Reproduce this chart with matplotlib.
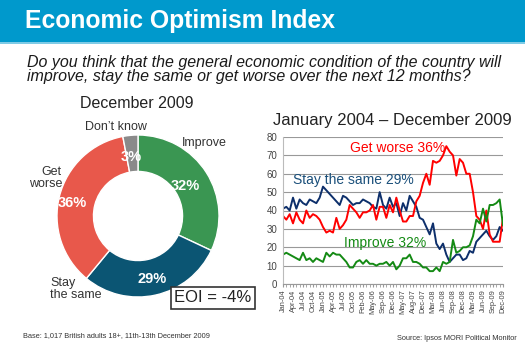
import matplotlib
matplotlib.use("Agg")
import matplotlib.pyplot as plt
from matplotlib.patches import Rectangle

plt.rcParams['font.family'] = ['Liberation Sans', 'DejaVu Sans']

# ---- data ----
pie_labels = ["Improve", "Stay the same", "Get worse", "Don't know"]
pie_values = [32, 29, 36, 3]
pie_colors = ["#3a9652", "#0b5573", "#e8584b", "#8a8a8a"]

tick_labels = ["Jan-04", "Apr-04", "Jul-04", "Oct-04", "Jan-05", "Apr-05", "Jul-05",
               "Oct-05", "Feb-06", "May-06", "Sep-06", "Dec-06", "May-07", "Aug-07",
               "Dec-07", "Mar-08", "Jun-08", "Sep-08", "Dec-08", "Mar-09", "Jun-09",
               "Sep-09", "Dec-09"]

stay_same = [41, 42, 40, 47, 41, 46, 44, 43, 46, 45, 44, 47, 53, 51, 49, 47, 45, 43,
             48, 47, 45, 43, 44, 44, 46, 45, 44, 42, 41, 50, 43, 41, 47, 42, 44, 37,
             44, 40, 48, 45, 42, 36, 35, 31, 27, 33, 22, 19, 22, 16, 12, 14, 16, 16,
             13, 14, 18, 17, 23, 25, 27, 29, 26, 24, 26, 31, 29]
get_worse = [37, 35, 38, 33, 39, 35, 33, 40, 36, 38, 37, 35, 31, 28, 29, 28, 36, 30,
             32, 35, 43, 41, 39, 36, 39, 39, 40, 43, 35, 42, 42, 36, 43, 39, 47, 40,
             34, 34, 37, 37, 45, 48, 55, 60, 54, 67, 66, 67, 70, 75, 72, 70, 59, 68,
             66, 60, 60, 50, 37, 35, 30, 40, 27, 23, 23, 23, 36]
improve = [16, 17, 16, 15, 14, 13, 17, 13, 14, 12, 14, 13, 12, 17, 15, 17, 16, 16,
           14, 12, 9, 9, 12, 13, 11, 13, 11, 11, 10, 11, 11, 12, 10, 12, 8, 10,
           14, 14, 16, 12, 12, 11, 9, 9, 7, 7, 9, 7, 12, 11, 12, 24, 17, 18,
           20, 20, 21, 26, 35, 33, 41, 34, 43, 43, 44, 46, 32]

W, H = 525, 362
fig = plt.figure(figsize=(W / 100, H / 100), dpi=100)

# ---- banner ----
fig.patches.append(Rectangle((0, 1 - 42 / H), 1, 42 / H, transform=fig.transFigure,
                             facecolor="#0099cc", edgecolor="none", zorder=0))
fig.patches.append(Rectangle((0, 1 - 44 / H), 1, 2 / H, transform=fig.transFigure,
                             facecolor="#7fcbe6", edgecolor="none", zorder=0))
fig.text(25 / W, 1 - 21 / H, "Economic Optimism Index", color="white",
         fontsize=17.8, fontweight="bold", va="center", ha="left")

fig.text(27 / W, 1 - 62 / H, "Do you think that the general economic condition of the country will",
         fontsize=11.5, style="italic", color="#1a1a1a", va="center", ha="left")
fig.text(27 / W, 1 - 77 / H, "improve, stay the same or get worse over the next 12 months?",
         fontsize=11.5, style="italic", color="#1a1a1a", va="center", ha="left")

fig.text(137 / W, 1 - 104 / H, "December 2009", fontsize=11.5, color="#222222",
         va="center", ha="center")
fig.text(392 / W, 1 - 120 / H, "January 2004 \u2013 December 2009", fontsize=12,
         color="#222222", va="center", ha="center")

def px(x, y):
    return x / W, 1 - y / H

# ---- donut ----
cx, cy, r = 138, 216, 81
axp = fig.add_axes([(cx - r) / W, 1 - (cy + r) / H, 2 * r / W, 2 * r / H])
axp.pie(pie_values, colors=pie_colors, startangle=90, counterclock=False,
        wedgeprops=dict(width=0.45, edgecolor="white", linewidth=1))
axp.set_xlim(-1, 1)
axp.set_ylim(-1, 1)
axp.set_aspect("equal")

for (x, y, t) in [(185, 186, "32%"), (152, 279, "29%"), (72, 203, "36%"), (131, 157, "3%")]:
    fig.text(*px(x, y), t, color="white", fontsize=10.5, fontweight="bold",
             ha="center", va="center", zorder=5)

fig.text(*px(182, 143), "Improve", fontsize=9, color="#333333", ha="left", va="center")
fig.text(*px(116, 127), "Don\u2019t know", fontsize=9, color="#333333", ha="center", va="center")
fig.text(*px(62, 178), "Get\nworse", fontsize=9, color="#333333", ha="right", va="center",
         linespacing=0.95, multialignment="right")
fig.text(*px(50, 289), "Stay\nthe same", fontsize=9, color="#333333", ha="left", va="center",
         linespacing=0.95)
fig.text(*px(213, 298), "EOI = -4%", fontsize=12, color="#222222", ha="center", va="center",
         bbox=dict(boxstyle="square,pad=0.2", facecolor="white", edgecolor="#333333", linewidth=1.2),
         zorder=6)

# ---- line chart ----
x0, x1, yt, yb = 283, 503, 137, 284
axl = fig.add_axes([x0 / W, 1 - yb / H, (x1 - x0) / W, (yb - yt) / H])
n = len(stay_same)
xs = list(range(n))
axl.plot(xs, stay_same, color="#0d2f6b", lw=1.4)
axl.plot(xs, get_worse, color="#ff0000", lw=1.4)
axl.plot(xs, improve, color="#148a14", lw=1.4)
axl.set_xlim(0, n - 1)
axl.set_ylim(0, 80)
axl.set_yticks(range(0, 81, 10))
axl.yaxis.grid(True, color="#999999", lw=0.8)
axl.set_axisbelow(True)
for s in ["top", "right"]:
    axl.spines[s].set_visible(False)
axl.spines["left"].set_color("#bbbbbb")
axl.spines["bottom"].set_color("#999999")
axl.tick_params(axis="y", labelsize=7, colors="#444444", length=0, pad=4)
axl.set_xticks(list(range(0, n, 3)))
axl.set_xticklabels(tick_labels, rotation=90, fontsize=5.3, color="#444444")
axl.set_xticks(xs, minor=True)
axl.tick_params(axis="x", which="both", length=2, color="#999999", pad=2)

axl.text(20, 74, "Get worse 36%", color="#ff0000", fontsize=10, ha="left", va="center")
axl.text(3, 56.5, "Stay the same 29%", color="#1a4f7a", fontsize=10, ha="left", va="center")
axl.text(18.3, 22.5, "Improve 32%", color="#148a14", fontsize=10, ha="left", va="center")

# ---- footer ----
fig.text(*px(23, 336), "Base: 1,017 British adults 18+, 11th-13th December 2009",
         fontsize=5.3, color="#333333", ha="left", va="center")
fig.text(*px(517, 338), "Source: Ipsos MORI Political Monitor",
         fontsize=5.3, color="#333333", ha="right", va="center")

fig.savefig("out.png", dpi=100)
